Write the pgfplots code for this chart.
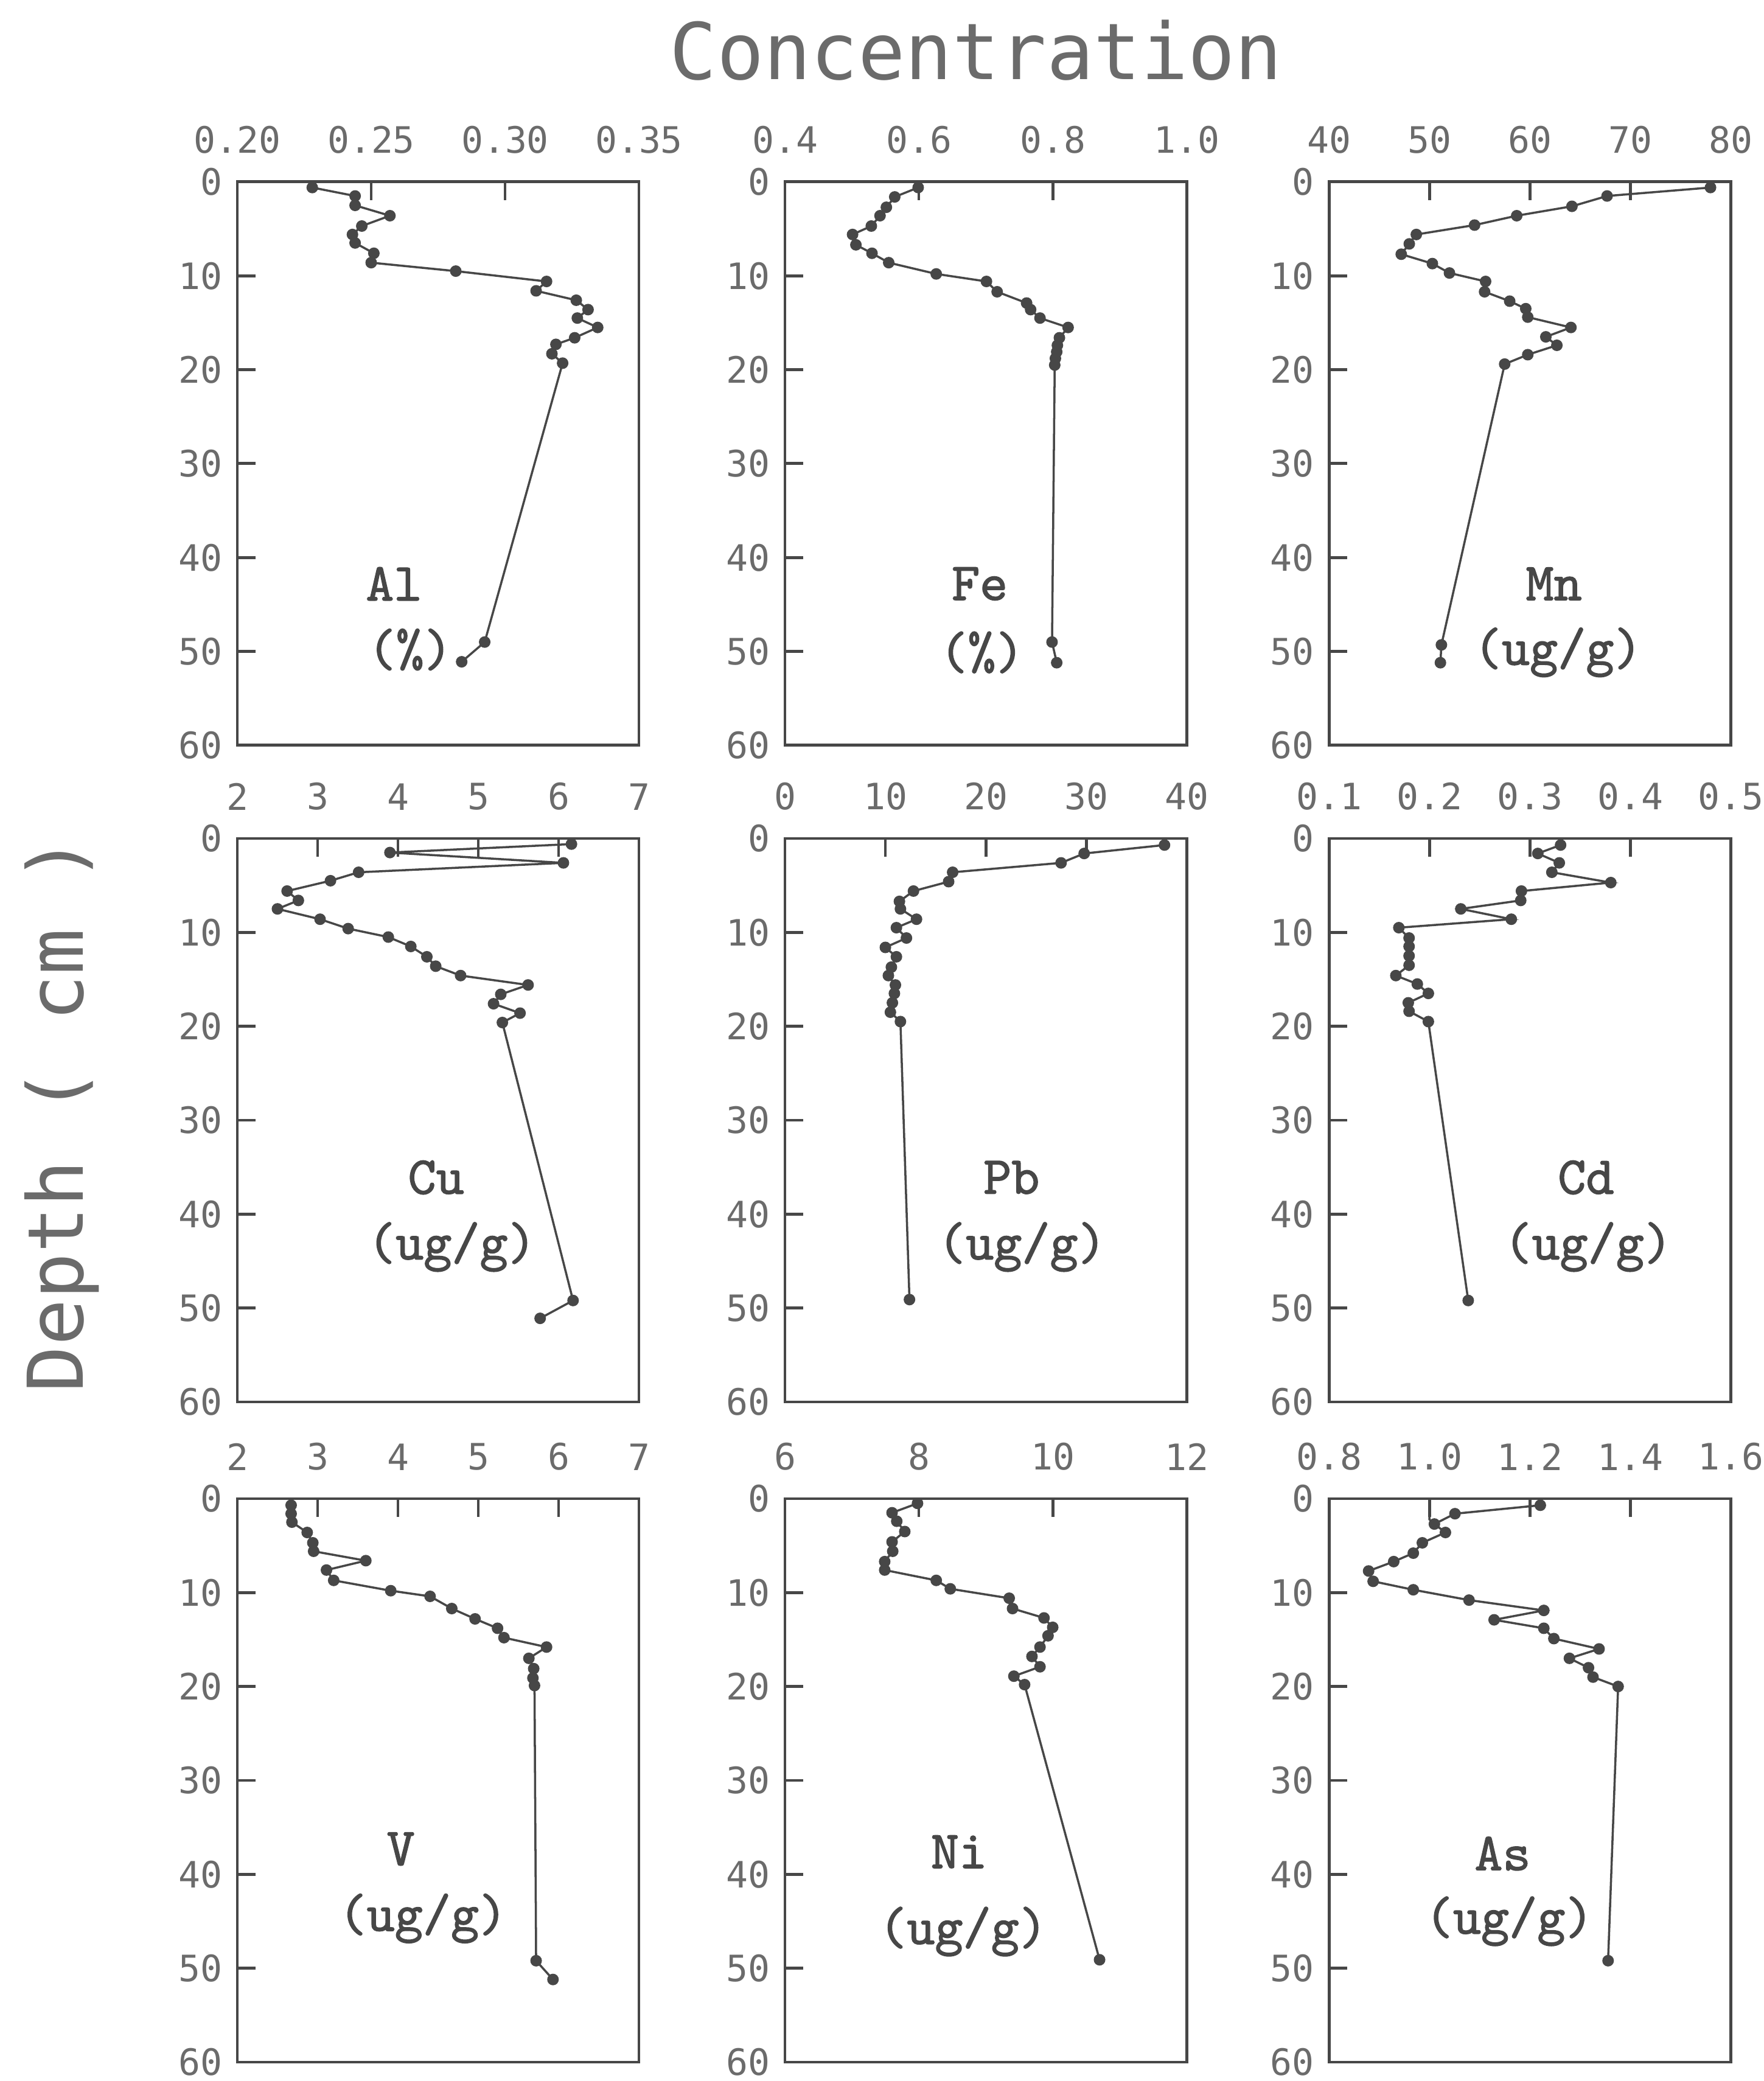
\documentclass[border=0pt]{standalone}
\usepackage{pgfplots}
\pgfplotsset{compat=1.18}
\usepackage{fontspec}
\newfontfamily\tickfont{DejaVu Sans Mono}
\newfontfamily\labfont[Extension=.otf, FakeBold=1.6]{lmmono10-regular}
\definecolor{ink}{gray}{0.28}
\definecolor{txt}{gray}{0.42}
\pgfplotsset{
 panel/.style={
  scale only axis, width=33mm, height=46.3mm, anchor=north west,
  y dir=reverse, ymin=0, ymax=60,
  ytick={0,10,20,30,40,50,60}, yticklabels={0,10,20,30,40,50,60},
  xtick pos=right, xticklabel pos=right, ytick pos=left,
  tick align=inside, major tick length=1.5mm,
  axis line style={draw=ink, line width=0.7pt},
  every tick/.style={draw=ink, line width=0.7pt},
  tick label style={font=\tickfont\fontsize{8.5}{10}\selectfont, text=txt},
  xticklabel shift=1.1mm,
  clip=false,
 },
}
\tikzset{
 prof/.style={draw=ink, line width=0.5pt, mark=*, mark size=1.1pt, mark options={fill=ink, draw=ink}},
 lab/.style={font=\labfont\fontsize{12.5}{14}\selectfont, text=ink, inner sep=0pt},
}
\begin{document}
\begin{tikzpicture}
\path[use as bounding box] (0,0) rectangle (144.9mm,171mm);
\node[font=\tickfont\fontsize{18.3}{20}\selectfont, text=txt] at (80.2mm,166.85mm) {Concentration};
\node[rotate=90, font=\tickfont\fontsize{18}{20}\selectfont, text=txt] at (5.1mm,79.45mm) {Depth ( cm )};

% Al
\begin{axis}[panel, at={(19.5mm,156.05mm)}, xmin=0.20, xmax=0.35,
  xtick={0.20,0.25,0.30,0.35}, xticklabels={0.20,0.25,0.30,0.35}]
\addplot[prof] coordinates {(0.228,0.6) (0.244,1.5) (0.244,2.5) (0.257,3.6) (0.2465,4.7) (0.243,5.6) (0.244,6.5) (0.251,7.6) (0.250,8.6) (0.2816,9.5) (0.3155,10.6) (0.3116,11.6) (0.3266,12.6) (0.331,13.6) (0.327,14.5) (0.3346,15.5) (0.326,16.6) (0.319,17.3) (0.3175,18.3) (0.3215,19.3) (0.2924,49.0) (0.2838,51.1)};
\node[lab] at (axis cs:0.2585,42.8) {Al};
\node[lab] at (axis cs:0.2645,49.8) {(\%)};
\end{axis}

% Fe
\begin{axis}[panel, at={(64.5mm,156.05mm)}, xmin=0.4, xmax=1.0,
  xtick={0.4,0.6,0.8,1.0}, xticklabels={0.4,0.6,0.8,1.0}]
\addplot[prof] coordinates {(0.599,0.6) (0.564,1.6) (0.5515,2.7) (0.542,3.6) (0.529,4.7) (0.501,5.6) (0.506,6.7) (0.530,7.6) (0.555,8.6) (0.626,9.8) (0.701,10.6) (0.717,11.7) (0.761,12.9) (0.767,13.6) (0.781,14.5) (0.823,15.5) (0.810,16.6) (0.807,17.4) (0.806,18.1) (0.804,18.8) (0.803,19.5) (0.799,49.0) (0.806,51.2)};
\node[lab] at (axis cs:0.691,42.8) {Fe};
\node[lab] at (axis cs:0.694,50.1) {(\%)};
\end{axis}

% Mn
\begin{axis}[panel, at={(109.2mm,156.05mm)}, xmin=40, xmax=80,
  xtick={40,50,60,70,80}, xticklabels={40,50,60,70,80}]
\addplot[prof] coordinates {(78.0,0.6) (67.7,1.5) (64.2,2.6) (58.7,3.6) (54.5,4.6) (48.7,5.6) (48.0,6.6) (47.2,7.7) (50.3,8.7) (52.0,9.7) (55.6,10.6) (55.5,11.7) (58.0,12.7) (59.6,13.5) (59.8,14.4) (64.1,15.5) (61.6,16.5) (62.7,17.4) (59.8,18.4) (57.5,19.4) (51.2,49.3) (51.1,51.2)};
\node[lab] at (axis cs:62.4,42.8) {Mn};
\node[lab] at (axis cs:62.8,50.1) {(ug/g)};
\end{axis}

% Cu
\begin{axis}[panel, at={(19.5mm,102.1mm)}, xmin=2, xmax=7,
  xtick={2,3,4,5,6,7}, xticklabels={2,3,4,5,6,7}]
\addplot[prof] coordinates {(6.16,0.6) (3.90,1.5) (6.06,2.6) (3.51,3.6) (3.16,4.5) (2.62,5.6) (2.76,6.6) (2.50,7.5) (3.03,8.6) (3.38,9.6) (3.88,10.5) (4.16,11.5) (4.36,12.6) (4.47,13.6) (4.78,14.6) (5.62,15.6) (5.28,16.6) (5.19,17.6) (5.52,18.6) (5.30,19.6) (6.18,49.2) (5.77,51.1)};
\node[lab] at (axis cs:4.475,36.1) {Cu};
\node[lab] at (axis cs:4.67,43.5) {(ug/g)};
\end{axis}

% Pb
\begin{axis}[panel, at={(64.5mm,102.1mm)}, xmin=0, xmax=40,
  xtick={0,10,20,30,40}, xticklabels={0,10,20,30,40}]
\addplot[prof] coordinates {(37.8,0.7) (29.8,1.6) (27.5,2.6) (16.7,3.6) (16.3,4.6) (12.8,5.6) (11.4,6.7) (11.5,7.5) (13.1,8.6) (11.1,9.5) (12.1,10.6) (10.0,11.6) (11.1,12.6) (10.6,13.7) (10.3,14.6) (11.0,15.6) (10.9,16.5) (10.7,17.5) (10.5,18.5) (11.5,19.5) (12.4,49.1)};
\node[lab] at (axis cs:22.56,36.1) {Pb};
\node[lab] at (axis cs:23.6,43.5) {(ug/g)};
\end{axis}

% Cd
\begin{axis}[panel, at={(109.2mm,102.1mm)}, xmin=0.1, xmax=0.5,
  xtick={0.1,0.2,0.3,0.4,0.5}, xticklabels={0.1,0.2,0.3,0.4,0.5}]
\addplot[prof] coordinates {(0.3307,0.7) (0.308,1.6) (0.3294,2.6) (0.322,3.6) (0.3807,4.7) (0.2917,5.6) (0.291,6.6) (0.2313,7.5) (0.2816,8.6) (0.1696,9.5) (0.1798,10.6) (0.1798,11.5) (0.1798,12.5) (0.1798,13.5) (0.1666,14.6) (0.188,15.5) (0.199,16.5) (0.179,17.5) (0.1798,18.4) (0.199,19.5) (0.2387,49.2)};
\node[lab] at (axis cs:0.356,36.1) {Cd};
\node[lab] at (axis cs:0.358,43.5) {(ug/g)};
\end{axis}

% V
\begin{axis}[panel, at={(19.5mm,47.85mm)}, xmin=2, xmax=7,
  xtick={2,3,4,5,6,7}, xticklabels={2,3,4,5,6,7}]
\addplot[prof] coordinates {(2.67,0.7) (2.67,1.6) (2.68,2.5) (2.87,3.6) (2.94,4.7) (2.95,5.6) (3.60,6.6) (3.11,7.6) (3.20,8.7) (3.91,9.8) (4.40,10.4) (4.67,11.7) (4.96,12.8) (5.24,13.8) (5.32,14.8) (5.85,15.8) (5.63,17.0) (5.69,18.1) (5.68,19.1) (5.70,19.9) (5.72,49.2) (5.93,51.2)};
\node[lab] at (axis cs:4.035,37.3) {V};
\node[lab] at (axis cs:4.31,44.7) {(ug/g)};
\end{axis}

% Ni
\begin{axis}[panel, at={(64.5mm,47.85mm)}, xmin=6, xmax=12,
  xtick={6,8,10,12}, xticklabels={6,8,10,12}]
\addplot[prof] coordinates {(7.98,0.5) (7.60,1.5) (7.67,2.4) (7.79,3.5) (7.60,4.6) (7.61,5.6) (7.49,6.7) (7.49,7.6) (8.26,8.7) (8.47,9.6) (9.35,10.6) (9.40,11.7) (9.87,12.7) (10.0,13.7) (9.93,14.6) (9.81,15.8) (9.69,16.8) (9.81,17.9) (9.42,18.9) (9.58,19.8) (10.70,49.1)};
\node[lab] at (axis cs:8.6,37.6) {Ni};
\node[lab] at (axis cs:8.66,46.1) {(ug/g)};
\end{axis}

% As
\begin{axis}[panel, at={(109.2mm,47.85mm)}, xmin=0.8, xmax=1.6,
  xtick={0.8,1.0,1.2,1.4,1.6}, xticklabels={0.8,1.0,1.2,1.4,1.6}]
\addplot[draw=ink, line width=0.5pt] coordinates {(1.0,0.5) (1.0,2.2) (1.01,2.7)};
\addplot[prof] coordinates {(1.221,0.7) (1.051,1.6) (1.010,2.7) (1.032,3.6) (0.986,4.7) (0.968,5.8) (0.929,6.7) (0.879,7.7) (0.888,8.8) (0.968,9.7) (1.079,10.8) (1.228,11.9) (1.129,12.9) (1.228,13.8) (1.248,14.9) (1.338,16.0) (1.279,17.0) (1.317,18.0) (1.326,19.0) (1.376,20.0) (1.356,49.2)};
\node[lab] at (axis cs:1.146,37.8) {As};
\node[lab] at (axis cs:1.159,45) {(ug/g)};
\end{axis}
\end{tikzpicture}
\end{document}
